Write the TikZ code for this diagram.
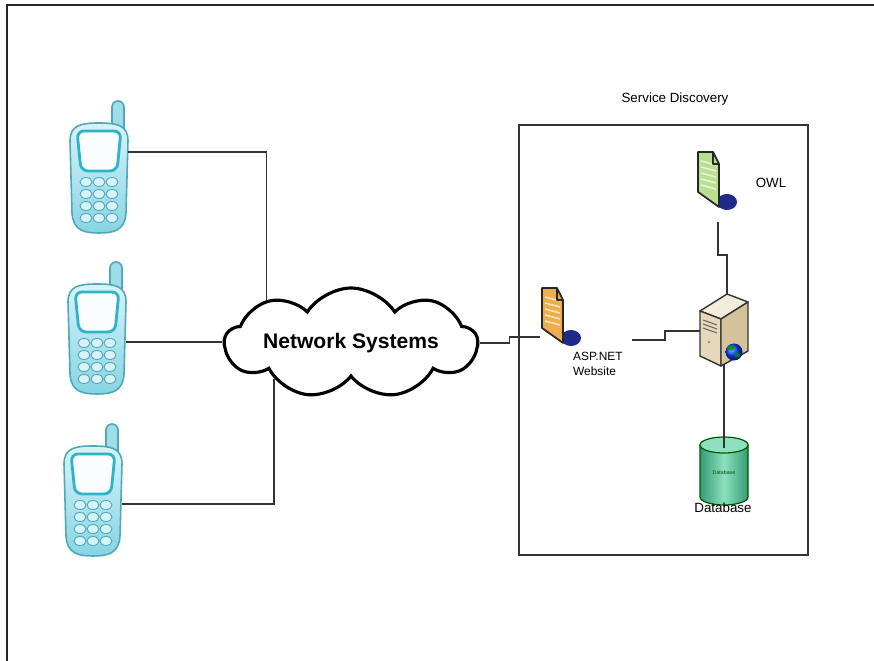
\documentclass[tikz,border=0pt]{standalone}
\usepackage{xcolor}
\usepackage{fontspec}
\setmainfont{Liberation Sans}
\usetikzlibrary{shapes.symbols}

\definecolor{phonelight}{HTML}{D8F3F8}
\definecolor{phonemid}{HTML}{86D4E4}
\definecolor{phoneedge}{HTML}{4FA8B8}
\definecolor{screenedge}{HTML}{2DB4C8}
\definecolor{owlgreen}{HTML}{B8DF92}
\definecolor{aspgold}{HTML}{EFAE4E}
\definecolor{docblue}{HTML}{1E2A8C}
\definecolor{dbgreen}{HTML}{3CB98A}
\definecolor{dblight}{HTML}{8EE0BE}
\definecolor{srvtop}{HTML}{F3ECDA}
\definecolor{srvfront}{HTML}{E6D9BB}
\definecolor{srvside}{HTML}{D3C29C}

\tikzset{
  wire/.style={draw=black!80, line width=0.8pt},
  outerframe/.style={draw=black!85, line width=1.2pt},
  lbl/.style={font=\fontsize{7.6}{9}\selectfont, inner sep=1pt},
  phoneline/.style={draw=phoneedge, line width=0.9pt},
  docline/.style={draw=black!85, line width=1pt, line join=round},
  srvline/.style={draw=black!80, line width=0.8pt, line join=round},
  % handset: antenna, body, screen and keys
  phone/.pic={
    \draw[phoneline, fill=phonemid!80]
      (13,-40) -- (13,-70) arc[start angle=180, end angle=360, radius=6] -- (25,-40) -- cycle;
    \draw[phoneline, top color=phonelight, bottom color=phonemid]
      (-29,-36) .. controls (-29,-52) and (-18,-54) .. (0,-54)
      .. controls (18,-54) and (29,-52) .. (29,-36)
      -- (27,36) .. controls (26,54) and (14,56) .. (0,56)
      .. controls (-14,56) and (-26,54) .. (-27,36) -- cycle;
    \draw[draw=screenedge, line width=1.6pt, fill=white!85!phonelight, rounded corners=4]
      (-22,-46) -- (22,-46) -- (18,-6) -- (-18,-6) -- cycle;
    \foreach \kr in {0,...,3}
      \foreach \kc in {-1,0,1}
        \draw[phoneline, line width=0.5pt, fill=phonelight] (\kc*13,5+\kr*12) ellipse (6 and 4.5);
    \coordinate (-ne) at (29,-25);
    \coordinate (-e) at (29,4);
  },
  % page with folded corner
  doc/.pic={
    \fill[docblue] (19,21) ellipse (10 and 8);
    \draw[docline, fill=#1] (-10,-29) -- (5,-29) -- (11,-17) -- (11,26) -- (-10,11) -- cycle;
    \foreach \dy in {-20,-14,...,4}
      \draw[#1!35!white, line width=0.9pt] (-7,\dy) -- (8,\dy+4);
    \draw[docline] (5,-29) -- (5,-17) -- (11,-17);
    \coordinate (-w) at (-12,20);
    \coordinate (-s) at (10,41);
  },
  server/.pic={
    \draw[srvline, fill=srvtop] (-24,-19) -- (3,-36) -- (24,-28) -- (-3,-11) -- cycle;
    \draw[srvline, fill=srvfront] (-24,-19) -- (-3,-11) -- (-3,36) -- (-24,26) -- cycle;
    \draw[srvline, fill=srvside] (-3,-11) -- (24,-28) -- (24,21) -- (-3,36) -- cycle;
    \foreach \sy in {-10,-6,-2}
      \draw[black!60, line width=0.6pt] (-21,\sy) -- (-7,\sy+5);
    \fill[black!45] (-15,12) circle (1.3);
    \shade[ball color=blue!75!cyan] (10,22) circle (8.5);
    \fill[green!55!black, opacity=.8] (7,18) ellipse (3.5 and 3);
    \fill[green!55!black, opacity=.8] (13,25) ellipse (3 and 2.5);
    \coordinate (-n) at (3,-36);
    \coordinate (-w) at (-24,1);
    \coordinate (-s) at (0,34);
  },
  database/.pic={
    \draw[draw=green!35!black, line width=0.7pt, left color=dbgreen!85!black,
      right color=dbgreen!85!black, middle color=dblight]
      (-24,-25) -- (-24,27) arc[start angle=180, end angle=0, x radius=24, y radius=8]
      -- (24,-25) -- cycle;
    \draw[draw=green!35!black, line width=0.7pt, fill=dblight] (0,-25) ellipse (24 and 8);
    \node[font=\fontsize{3}{3}\selectfont, text=green!30!black] (-txt) at (0,3) {Database};
    \coordinate (-n) at (0,-22);
  }
}

\begin{document}
\begin{tikzpicture}[x=0.02cm, y=-0.02cm]
  \useasboundingbox (0,0) rectangle (874,661);
  \draw[outerframe] (7,661) -- (7,5) -- (874,5);

  \pic (ph1) at (99,177) {phone};
  \pic (ph2) at (97,338) {phone};
  \pic (ph3) at (93,500) {phone};

  \node[cloud, draw=black, line width=1.8pt, fill=white, cloud puffs=9,
    cloud puff arc=115, cloud ignores aspect, inner sep=0pt,
    minimum width=5.05cm, minimum height=2.2cm] (net) at (351,343) {};
  \node[font=\bfseries\fontsize{12}{14}\selectfont] (nettext) at (net) {Network Systems};

  \node[draw=black!80, line width=0.9pt, minimum width=5.78cm, minimum height=8.6cm]
    (sd) at (663.5,340) {};
  \node[lbl] (sdtitle) at (675,99) {Service Discovery};

  \pic (owl) at (708,181) {doc=owlgreen};
  \pic (asp) at (552,317) {doc=aspgold};
  \pic (srv) at (724,330) {server};
  \pic (db) at (724,470) {database};

  \node[lbl] (owltext) at (771,183) {OWL};
  \node[lbl, anchor=north west, align=left, font=\fontsize{6.8}{8.5}\selectfont]
    (asptext) at (571,350) {ASP.NET\\Website};
  \node[lbl] (dbtext) at (723,508) {Database};
  \coordinate (aspout) at (632,340);

  \draw[wire] (ph1-ne) -| (net.153);
  \draw[wire] (ph2-e) -- (ph2-e -| net.west);
  \draw[wire] (ph3-e) -| (net.205);
  \draw[wire] (net.east) -- ++(30,0) |- (asp-w);
  \draw[wire] (aspout) -- ++(33,0) |- (srv-w);
  \draw[wire] (owl-s) -- ++(0,33) -| (srv-n);
  \draw[wire] (srv-s) -- (db-n);
\end{tikzpicture}
\end{document}
